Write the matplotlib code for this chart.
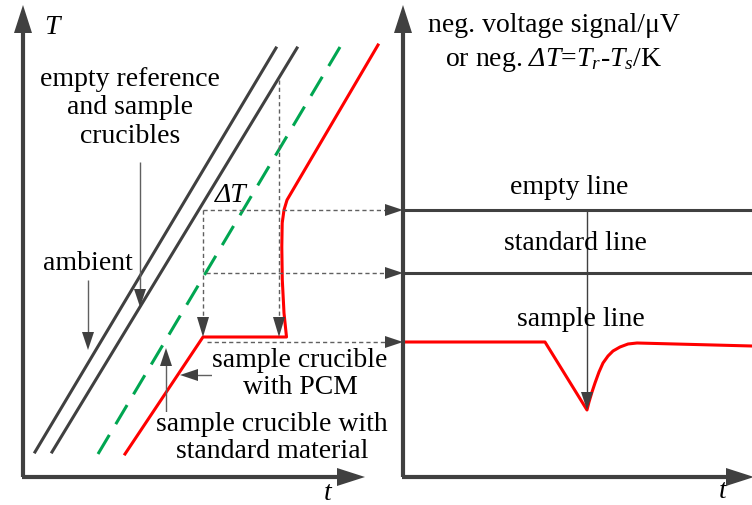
import matplotlib
matplotlib.use("Agg")
import matplotlib.pyplot as plt
from matplotlib.patches import Polygon
import numpy as np

plt.rcParams["font.family"] = ["Liberation Serif", "DejaVu Serif"]
plt.rcParams["mathtext.fontset"] = "custom"
plt.rcParams["mathtext.rm"] = "Liberation Serif:italic"
plt.rcParams["mathtext.it"] = "Liberation Serif:italic"
plt.rcParams["lines.scale_dashes"] = False

# Schematic coordinates (canvas units, y grows downward)
ambient_t = [35, 276]
ambient_T = [452, 48]
empty_t = [52, 297]
empty_T = [452, 48]
standard_t = [98, 340]
standard_T = [454, 47]
pcm_t = [125, 203, 286.5, 284, 282.3, 281.8, 282.2, 284, 287, 378]
pcm_T = [454, 337, 337, 313, 280, 247, 223, 210, 200, 45]

empty_line_y = 210
standard_line_y = 273
sample_t = [403, 545, 587, 589, 592, 595, 599, 603, 608, 613, 620, 628, 637, 752]
sample_y = [342, 342, 410, 402, 392, 383, 372, 363, 356, 351, 347, 344, 343, 346]

DARK = "#404040"
GRAY = "#606060"
RED = "#ff0000"
GREEN = "#00a651"

fig = plt.figure(figsize=(7.52, 5.05), dpi=100)
ax = fig.add_axes([0, 0, 1, 1])
ax.set_xlim(0, 752)
ax.set_ylim(505, 0)
ax.axis("off")


def head(tip, direction, length, width, color=DARK):
    tip = np.array(tip, float)
    d = np.array(direction, float)
    d /= np.linalg.norm(d)
    n = np.array([-d[1], d[0]])
    base = tip - d * length
    pts = [tip, base + n * width / 2, base - n * width / 2]
    ax.add_patch(Polygon(pts, closed=True, color=color, lw=0, zorder=5))


def arrow(p0, p1, lw=1.0, color=GRAY, ls="-", hl=18, hw=12, hcolor=DARK):
    p0 = np.array(p0, float)
    p1 = np.array(p1, float)
    d = (p1 - p0) / np.linalg.norm(p1 - p0)
    end = p1 - d * hl * 0.5
    kw = dict(color=color, lw=lw, zorder=3, solid_capstyle="butt")
    if ls == "--":
        kw["dashes"] = (3.0, 2.2)
    ax.plot([p0[0], end[0]], [p0[1], end[1]], **kw)
    head(p1, d, hl, hw, hcolor)


# Axes of both panels
for x0, xend in [(23, 365), (403, 754)]:
    ax.plot([x0, x0], [477, 20], color=DARK, lw=3.0, solid_capstyle="butt", zorder=4)
    head((x0, 5), (0, -1), 28, 18)
    ax.plot([x0 - 1, xend - 20], [477, 477], color=DARK, lw=3.0, solid_capstyle="butt", zorder=4)
    head((xend, 477), (1, 0), 28, 18)

# Temperature curves
ax.plot(ambient_t, ambient_T, color=DARK, lw=2.2)
ax.plot(empty_t, empty_T, color=DARK, lw=2.2)
ax.plot(standard_t, standard_T, color=GREEN, lw=2.2, dashes=(16, 9))
ax.plot(pcm_t, pcm_T, color=RED, lw=2.2, solid_joinstyle="round")

# Projection guides
arrow((203, empty_line_y), (403, empty_line_y), ls="--")
arrow((206, standard_line_y), (403, standard_line_y), ls="--")
arrow((207, sample_y[0]), (403, sample_y[0]), ls="--")
arrow((203, empty_line_y), (203, 337), ls="--", hl=20)
arrow((279, 80), (279, 337), ls="--", hl=20)

# Signal lines
ax.plot([403, 752], [empty_line_y, empty_line_y], color=DARK, lw=2.2)
ax.plot([403, 752], [standard_line_y, standard_line_y], color=DARK, lw=2.2)
ax.plot(sample_t, sample_y, color=RED, lw=2.2, zorder=3, solid_joinstyle="round")

# Annotation pointers
arrow((88, 280), (88, 350))
arrow((140, 162), (140, 307))
arrow((228, 375), (180, 375))
arrow((166, 413), (166, 348))
arrow((587, empty_line_y), (587, 410), color=DARK)

fs = 20
ax.text(52, 27, "T", fontsize=fs, style="italic", ha="center", va="center")
ax.text(328, 493, "t", fontsize=fs, style="italic", ha="center", va="center")
ax.text(723, 492, "t", fontsize=fs, style="italic", ha="center", va="center")
ax.text(130, 108, "empty reference\nand sample\ncrucibles", fontsize=fs,
        ha="center", va="center", linespacing=1.18)
ax.text(88, 263, "ambient", fontsize=fs, ha="center", va="center")
ax.text(231, 195, "ΔT", fontsize=fs, style="italic", ha="center", va="center")
ax.text(300, 374, "sample crucible\nwith PCM", fontsize=fs, ha="center",
        va="center", linespacing=1.15,
        bbox=dict(facecolor="white", edgecolor="none", pad=0))
ax.text(272, 438, "sample crucible with\nstandard material", fontsize=fs,
        ha="center", va="center", linespacing=1.12,
        bbox=dict(facecolor="white", edgecolor="none", pad=0))
ax.text(554, 25, "neg. voltage signal/μV", fontsize=fs, ha="center", va="center")
ax.text(554, 60, r"or neg. $\Delta T$=$T_r$-$T_s$/K", fontsize=fs,
        ha="center", va="center")
ax.text(569, 188, "empty line", fontsize=fs, ha="center", va="center")
ax.text(575, 243, "standard line", fontsize=fs, ha="center", va="center")
ax.text(581, 320, "sample line", fontsize=fs, ha="center", va="center")

fig.savefig("out.png", dpi=100)
